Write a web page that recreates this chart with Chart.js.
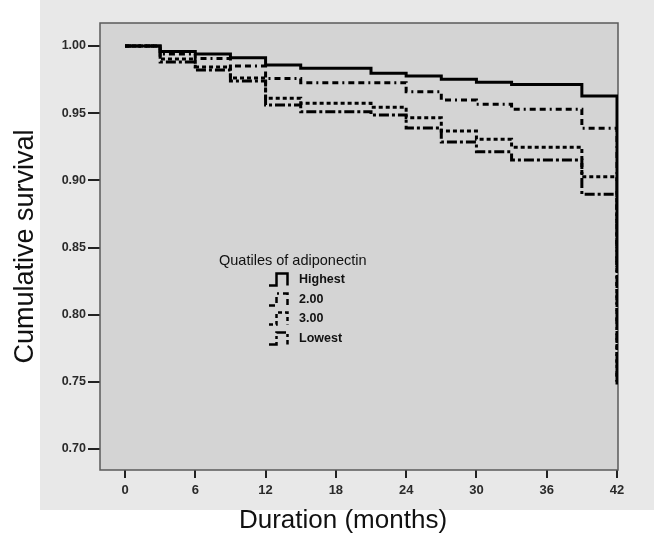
<!DOCTYPE html>
<html>
<head>
<meta charset="utf-8">
<script src="https://cdn.jsdelivr.net/npm/chart.js@4.4.1/dist/chart.umd.min.js"></script>
<style>
  html, body { margin: 0; padding: 0; background: #fff; }
  #wrap { position: relative; width: 654px; height: 541px; }
  #legend {
    position: absolute; left: 219px; top: 250px;
    font-family: "Liberation Sans", Arial, sans-serif; color: #111;
  }
  #legend .title { font-size: 14.5px; line-height: 20px; white-space: nowrap; }
  #legend .item { position: relative; height: 19.7px; margin-left: 49px; }
  #legend .item svg { position: absolute; left: 0; top: 2px; }
  #legend .item span {
    position: absolute; left: 31px; top: 2px;
    font-size: 12.5px; font-weight: bold; line-height: 15px; white-space: nowrap;
  }
</style>
</head>
<body>
<div id="wrap">
  <canvas id="chart" width="654" height="541"></canvas>
  <div id="legend"></div>
</div>
<script>
// visit months where the curves step
const months = [0, 3, 6, 9, 12, 15, 21, 24, 27, 30, 33, 39, 42];

// cumulative survival, one list per quartile
const highest = [1.000, 0.9958, 0.9940, 0.9913, 0.9859, 0.9834, 0.9797, 0.9777, 0.9752, 0.9730, 0.9713, 0.9628, 0.837];
const second  = [1.000, 0.9940, 0.9907, 0.9851, 0.9758, 0.9727, 0.9727, 0.9660, 0.9598, 0.9566, 0.9529, 0.9387, 0.748];
const third   = [1.000, 0.9903, 0.9844, 0.9762, 0.9611, 0.9573, 0.9544, 0.9466, 0.9367, 0.9305, 0.9246, 0.9027, 0.748];
const lowest  = [1.000, 0.9880, 0.9821, 0.9739, 0.9561, 0.9511, 0.9486, 0.9389, 0.9285, 0.9213, 0.9151, 0.8896, 0.748];

const groupNames = ["Highest", "2.00", "3.00", "Lowest"];
const xTicks = [0, 6, 12, 18, 24, 30, 36, 42];
const yTicks = [0.70, 0.75, 0.80, 0.85, 0.90, 0.95, 1.00];

const dashes = [[], [6, 4, 6, 4, 2, 4], [4, 3], [10, 3, 3, 3]];
const series = [highest, second, third, lowest];

const FONT = '"Liberation Sans", Arial, sans-serif';

function toPoints(values) {
    return months.map((m, i) => ({ x: m, y: values[i] }));
}

// grey panels, plot frame (under the curves) and the x title
const backdrop = {
    id: 'backdrop',
    beforeDraw(chart) {
        const { ctx, chartArea: a } = chart;
        ctx.save();
        ctx.fillStyle = '#e8e8e8';
        ctx.fillRect(40, 0, 614, 510);
        ctx.fillStyle = '#d4d4d4';
        ctx.fillRect(a.left, a.top, a.right - a.left, a.bottom - a.top);
        ctx.restore();
    },
    beforeDatasetsDraw(chart) {
        const { ctx, chartArea: a } = chart;
        ctx.save();
        ctx.strokeStyle = '#5a5a5a';
        ctx.lineWidth = 1.5;
        ctx.strokeRect(a.left, a.top, a.right - a.left, a.bottom - a.top);
        ctx.restore();
    },
    afterDraw(chart) {
        const { ctx } = chart;
        ctx.save();
        ctx.fillStyle = '#111';
        ctx.font = '26px ' + FONT;
        ctx.textAlign = 'center';
        ctx.textBaseline = 'middle';
        ctx.fillText('Duration (months)', 343, 521);
        ctx.restore();
    }
};

const chart = new Chart(document.getElementById('chart'), {
    type: 'line',
    data: {
        datasets: series.map((vals, i) => ({
            label: groupNames[i],
            data: toPoints(vals),
            stepped: 'before',
            borderColor: '#000',
            borderWidth: 3,
            borderDash: dashes[i],
            pointRadius: 0,
            fill: false,
        }))
    },
    options: {
        responsive: false,
        animation: false,
        devicePixelRatio: 1,
        layout: { padding: { top: 23, right: 36, left: 0, bottom: 0 } },
        plugins: {
            legend: { display: false },
            tooltip: { enabled: false },
        },
        scales: {
            x: {
                type: 'linear',
                min: -2.134,
                max: 42.085,
                afterBuildTicks: (s) => { s.ticks = xTicks.map(v => ({ value: v })); },
                afterFit: (s) => { s.height = 71; },
                grid: { drawOnChartArea: false, tickLength: 8, color: '#222', lineWidth: 2 },
                border: { display: false },
                ticks: {
                    padding: 5,
                    color: '#2a2a2a',
                    font: { family: FONT, size: 13, weight: 'bold' },
                    callback: (v) => String(v),
                },
            },
            y: {
                min: 0.6844,
                max: 1.0171,
                afterBuildTicks: (s) => { s.ticks = yTicks.map(v => ({ value: v })); },
                afterFit: (s) => { s.width = 100; },
                grid: { drawOnChartArea: false, tickLength: 12, color: '#222', lineWidth: 2 },
                border: { display: false },
                ticks: {
                    padding: 2,
                    color: '#2a2a2a',
                    font: { family: FONT, size: 12.5, weight: 'bold' },
                    callback: (v) => v.toFixed(2),
                },
                title: {
                    display: true,
                    text: 'Cumulative survival',
                    color: '#111',
                    font: { family: FONT, size: 27 },
                    padding: { top: 9.8, bottom: 0 },
                },
            },
        },
    },
    plugins: [backdrop],
});

// legend drawn as html, built from the datasets
const legend = document.getElementById('legend');
legend.innerHTML = '<div class="title">Quatiles of adiponectin</div>';
chart.data.datasets.forEach((ds) => {
    const item = document.createElement('div');
    item.className = 'item';
    const dash = ds.borderDash.length ? ds.borderDash.join(' ') : 'none';
    item.innerHTML =
        '<svg width="22" height="15"><path d="M1 13.5 H8.5 V1.5 H19.5 V13.5" fill="none" stroke="#000" ' +
        'stroke-width="2.5" stroke-dasharray="' + dash + '"/></svg>' +
        '<span>' + ds.label + '</span>';
    legend.appendChild(item);
});
</script>
</body>
</html>
